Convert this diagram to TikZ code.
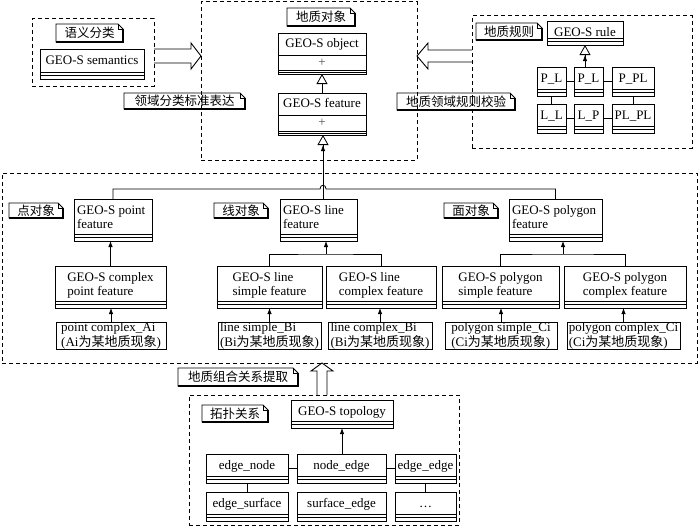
\documentclass[tikz,border=0pt]{standalone}
\usepackage{fontspec}
\setmainfont{Liberation Serif}
\newfontfamily\cjk{Noto Sans CJK SC}
\usetikzlibrary{arrows.meta}
% class box: name, x1, y1, x2, y2, alignment, text
\newcommand\umlcls[7]{%
  \pgfmathsetmacro\clsw{#4-#2}%
  \pgfmathsetmacro\clsh{#5-#3}%
  \node[clsbox, anchor=north west] (#1) at (#2,#3)
    {\parbox[t][\clsh pt][t]{\clsw pt}{\vspace*{5.5pt}#6\begin{tabular}[t]{@{}l@{}}#7\end{tabular}\par}};
  \draw[clsline] ([yshift=3.5pt]#1.south west) -- ([yshift=3.5pt]#1.south east);
  \draw[clsline] ([yshift=7pt]#1.south west) -- ([yshift=7pt]#1.south east);
}
% plain box with text
\newcommand\leafbox[6]{%
  \pgfmathsetmacro\lfw{#4-#2}%
  \pgfmathsetmacro\lfh{#5-#3}%
  \node[leaf, minimum width=\lfw pt, minimum height=\lfh pt, anchor=north west] (#1) at (#2,#3) {#6};
}
% note label
\newcommand\notelbl[6]{%
  \pgfmathsetmacro\ntw{#4-#2}%
  \pgfmathsetmacro\nth{#5-#3}%
  \node[notetxt, minimum width=\ntw pt, minimum height=\nth pt, anchor=north west] (#1) at (#2,#3) {#6};
  \draw[noteline] (#1.south west) -- (#1.north west) -- ([xshift=-5pt]#1.north east)
     -- ([yshift=-5pt]#1.north east) -- (#1.south east) -- cycle;
  \draw[noteline] ([xshift=-5pt]#1.north east) -- ([xshift=-5pt,yshift=-5pt]#1.north east) -- ([yshift=-5pt]#1.north east);
  \draw[line width=1.5pt] ([yshift=-5pt]#1.north east) -- (#1.south east) -- (#1.south west);
}
% dashed group
\newcommand\grpbox[5]{%
  \pgfmathsetmacro\gw{#4-#2}%
  \pgfmathsetmacro\gh{#5-#3}%
  \node[grp, minimum width=\gw pt, minimum height=\gh pt, anchor=north west] (#1) at (#2,#3) {};
}
\begin{document}
\begin{tikzpicture}[x=1pt,y=-1pt,
  font=\fontsize{13}{14}\selectfont,
  grp/.style={draw, dash pattern=on 4pt off 3pt, line width=1pt, inner sep=0pt, outer sep=0pt},
  clsbox/.style={draw, line width=0.9pt, inner sep=0pt, outer sep=0pt},
  clsline/.style={line width=0.8pt},
  leaf/.style={draw, line width=0.9pt, inner sep=0pt, outer sep=0pt, align=left, font=\fontsize{13}{13}\selectfont},
  notetxt/.style={inner sep=0pt, outer sep=0pt, font=\cjk\fontsize{12.5}{14}\selectfont},
  noteline/.style={line width=0.8pt},
  assoc/.style={line width=0.8pt, -{Latex[length=6pt,width=4.5pt]}},
  gen/.style={line width=0.8pt, -{Latex[length=6pt,width=4.5pt]Triangle[open,length=10pt,width=11pt]}},
  genonly/.style={line width=0.8pt, -{Triangle[open,length=10pt,width=11pt]}},
  link/.style={line width=0.8pt},
  blk/.style={line width=0.9pt, line join=miter},
]
\useasboundingbox (0,0) rectangle (700,527);

% ---------- dashed groups
\grpbox{gsem}{32}{19}{154}{86}
\grpbox{gobj}{201}{2}{417}{160}
\grpbox{grule}{472}{16}{692}{148}
\grpbox{gbig}{2}{173}{697}{363}
\grpbox{gtopo}{189}{395}{459}{525}

% ---------- labels
\notelbl{n1}{56}{24}{123}{42}{语义分类}
\notelbl{n2}{124}{93}{245}{109}{领域分类标准表达}
\notelbl{n3}{287}{8}{355}{26}{地质对象}
\notelbl{n4}{476}{23}{542}{40}{地质规则}
\notelbl{n5}{397}{93}{515}{110}{地质领域规则校验}
\notelbl{n6}{9}{203}{63}{218}{点对象}
\notelbl{n7}{214}{203}{268}{218}{线对象}
\notelbl{n8}{444}{203}{498}{218}{面对象}
\notelbl{n9}{178}{368}{298}{386}{地质组合关系提取}
\notelbl{n10}{202}{405}{268}{422}{拓扑关系}

% ---------- semantics
\umlcls{sem}{40}{49}{144}{79}{\centering}{GEO-S semantics}

% ---------- object / feature
\node[clsbox, anchor=north west] (obj) at (278,33)
  {\parbox[t][41pt][t]{88pt}{\vspace*{5pt}\centering GEO-S object\par}};
\draw[clsline] (obj.west |- 0,55) -- (obj.east |- 0,55);
\draw[clsline] (obj.west |- 0,70.5) -- (obj.east |- 0,70.5);
\draw[clsline] (obj.west |- 0,72.5) -- (obj.east |- 0,72.5);
\node[inner sep=0pt, text=black!70] (objplus) at (322,62.5) {+};

\node[clsbox, anchor=north west] (feat) at (278,93)
  {\parbox[t][42pt][t]{88pt}{\vspace*{5pt}\centering GEO-S feature\par}};
\draw[clsline] (feat.west |- 0,115) -- (feat.east |- 0,115);
\draw[clsline] (feat.west |- 0,131) -- (feat.east |- 0,131);
\draw[clsline] (feat.west |- 0,133) -- (feat.east |- 0,133);
\node[inner sep=0pt, text=black!70] (featplus) at (322,123) {+};

\draw[genonly] (feat.north) -- (obj.south);

% ---------- rules
\umlcls{rule}{547}{21}{623}{45}{\centering}{GEO-S rule}
\umlcls{pl1}{537}{67}{566}{96}{\centering}{P\_L}
\umlcls{pl2}{574}{67}{603}{96}{\centering}{P\_L}
\umlcls{ppl}{612}{67}{654}{96}{\centering}{P\_PL}
\umlcls{ll}{537}{104}{566}{133}{\centering}{L\_L}
\umlcls{lp}{574}{104}{603}{133}{\centering}{L\_P}
\umlcls{plpl}{612}{104}{654}{133}{\centering}{PL\_PL}
\draw[gen] (pl2.north -| rule.south) -- (rule.south);
\draw[link] (pl1) -- (pl2);
\draw[link] (pl2) -- (ppl);
\draw[link] (ll) -- (lp);
\draw[link] (lp) -- (plpl);
\draw[link] (pl1) -- (ll);
\draw[link] (ppl) -- (plpl);

% ---------- point / line / polygon features
\umlcls{pf}{74}{199}{152}{241}{\hspace*{3pt}}{GEO-S point\\feature}
\umlcls{pcf}{55}{266}{166}{308}{\centering}{GEO-S complex\\point feature}
\leafbox{pca}{56}{322}{166}{349}{point complex\_Ai\\(Ai{\cjk 为某地质现象})}

\umlcls{lf}{280}{199}{357}{241}{\hspace*{3pt}}{GEO-S line\\feature}
\umlcls{lsf}{217}{266}{322}{308}{\centering}{GEO-S line\\simple feature}
\umlcls{lcf}{326}{266}{436}{308}{\centering}{GEO-S line\\complex feature}
\leafbox{lsb}{218}{322}{321}{349}{line simple\_Bi\\(Bi{\cjk 为某地质现象})}
\leafbox{lcb}{328}{322}{432}{349}{line complex\_Bi\\(Bi{\cjk 为某地质现象})}

\umlcls{pyf}{509}{199}{602}{241}{\hspace*{3pt}}{GEO-S polygon\\feature}
\umlcls{psf}{442}{266}{559}{308}{\centering}{GEO-S polygon\\simple feature}
\umlcls{pcx}{564}{266}{686}{308}{\centering}{GEO-S polygon\\complex feature}
\leafbox{psc}{445}{322}{557}{349}{polygon simple\_Ci\\(Ci{\cjk 为某地质现象})}
\leafbox{pcc}{567}{322}{680}{349}{polygon complex\_Ci\\(Ci{\cjk 为某地质现象})}

% connectors inside the big group
\draw[assoc] (pcf.north) -- (pcf.north |- pf.south);
\draw[assoc] (pca.north) -- (pca.north |- pcf.south);

\coordinate (lj) at (326,254);
\draw[link] (lsf.north) |- (lj) -| (lcf.north);
\draw[assoc] (lj) -- (lj |- lf.south);
\draw[assoc] (lsb.north) -- (lsb.north |- lsf.south);
\draw[assoc] (lcb.north) -- (lcb.north |- lcf.south);

\coordinate (pj) at (563,254);
\draw[link] (psf.north) |- (pj) -| (pcx.north);
\draw[assoc] (pj) -- (pj |- pyf.south);
\draw[assoc] (psc.north) -- (psc.north |- psf.south);
\draw[assoc] (pcc.north) -- (pcc.north |- pcx.south);

% tree to feature
\coordinate (hopL) at (320,189);
\coordinate (hopR) at (326,189);
\draw[link] (pf.north) |- (hopL) .. controls (320,184) and (326,184) .. (hopR) -| (pyf.north);
\coordinate (lftop) at (323,199);
\draw[gen] (lftop) -- (lftop |- feat.south);

% ---------- topology
\umlcls{topo}{291}{400}{393}{428}{\centering}{GEO-S topology}
\umlcls{en}{206}{454}{288}{483}{\centering}{edge\_node}
\umlcls{ne}{297}{454}{386}{483}{\centering}{node\_edge}
\umlcls{ee}{395}{454}{456}{483}{\centering}{edge\_edge}
\umlcls{es}{206}{492}{288}{521}{\centering}{edge\_surface}
\umlcls{se}{297}{492}{386}{521}{\centering}{surface\_edge}
\umlcls{dd}{395}{492}{456}{521}{\centering}{…}
\draw[assoc] (ne.north -| topo.south) -- (topo.south);
\draw[link] (en) -- (ne);
\draw[link] (ne) -- (ee);
\draw[link] (en) -- (es);
\draw[link] (ee) -- (dd);

% ---------- hollow block arrows
\draw[blk] (gsem.east |- 0,63) -- (191,63) -- (191,69) -- (gobj.west |- 0,56) -- (191,43) -- (191,49) -- (gsem.east |- 0,49);
\draw[blk] (grule.west |- 0,50) -- (428,50) -- (428,43) -- (gobj.east |- 0,56) -- (428,69) -- (428,62) -- (grule.west |- 0,62);
\draw[blk] (317,0 |- gtopo.north) -- (317,371) -- (311,371) -- (322,0 |- gbig.south) -- (333,371) -- (327,371) -- (327,0 |- gtopo.north);
\end{tikzpicture}
\end{document}
